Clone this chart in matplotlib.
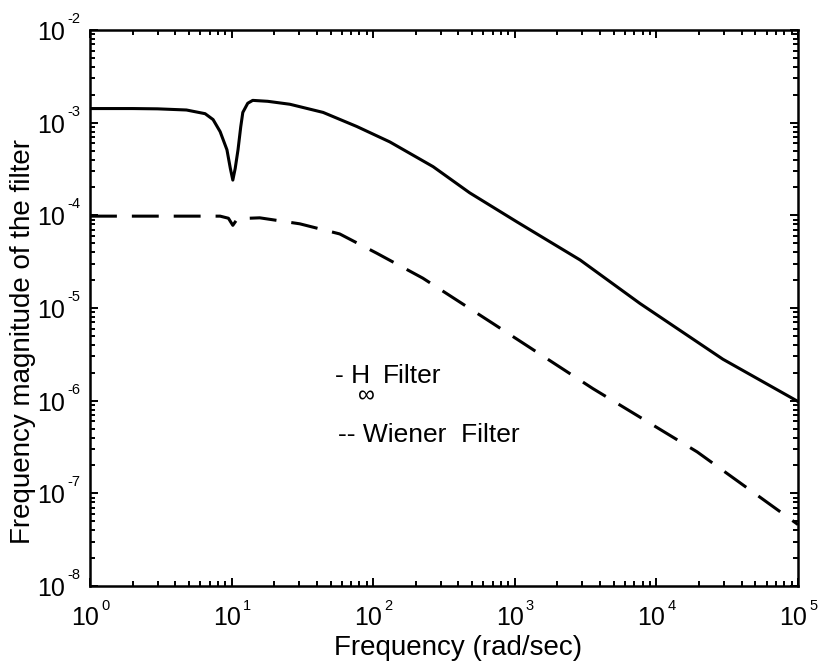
import matplotlib
matplotlib.use("Agg")
import matplotlib.pyplot as plt
from matplotlib.ticker import LogLocator, NullFormatter, FixedLocator

plt.rcParams['font.family'] = ['Liberation Sans', 'DejaVu Sans']

# H-infinity filter (solid)
hinf_freq = [1, 2, 3, 4.8, 6.5, 7.4, 8.3, 9.27, 9.8, 10.2, 10.6, 11.1, 11.6, 12.0,
             13.0, 14.1, 18, 25.8, 44.3, 76.5, 131, 265, 480, 1035, 2890, 7650,
             29500, 1e5]
hinf_mag = [1.42e-3, 1.42e-3, 1.41e-3, 1.37e-3, 1.25e-3, 1.08e-3, 8.0e-4, 5.1e-4,
            3.2e-4, 2.4e-4, 3.2e-4, 5.1e-4, 9.0e-4, 1.29e-3, 1.62e-3, 1.74e-3,
            1.70e-3, 1.58e-3, 1.29e-3, 9.1e-4, 6.2e-4, 3.35e-4, 1.75e-4, 8.5e-5,
            3.3e-5, 1.12e-5, 2.8e-6, 9.8e-7]

# Wiener filter (dashed)
wiener_freq = [1, 5, 8.3, 9.5, 10.2, 11, 15.8, 30.3, 58, 106, 224, 701, 3560,
               19400, 1e5]
wiener_mag = [9.8e-5, 9.8e-5, 9.8e-5, 9.3e-5, 7.8e-5, 9.2e-5, 9.4e-5, 8.1e-5,
              6.3e-5, 3.9e-5, 2.1e-5, 6.8e-6, 1.35e-6, 2.8e-7, 4.6e-8]

x_ticks = [1e0, 1e1, 1e2, 1e3, 1e4, 1e5]
x_tick_exps = ['0', '1', '2', '3', '4', '5']
y_ticks = [1e-8, 1e-7, 1e-6, 1e-5, 1e-4, 1e-3, 1e-2]
y_tick_exps = ['-8', '-7', '-6', '-5', '-4', '-3', '-2']
tick_base = '10'

W, H = 820, 671
PX = 0.72  # points per pixel at 100 dpi

fig = plt.figure(figsize=(8.2, 6.71), dpi=100)
ax = fig.add_axes([90 / W, 1 - 586 / H, 708 / W, 556 / H])

ax.plot(hinf_freq, hinf_mag, color='black', lw=2.2, solid_joinstyle='round')
ax.plot(wiener_freq, wiener_mag, color='black', lw=2.2, dashes=(8.8, 4.9))

ax.set_xscale('log')
ax.set_yscale('log')
ax.set_xlim(1e0, 1e5)
ax.set_ylim(1e-8, 1e-2)

ax.xaxis.set_major_locator(FixedLocator(x_ticks))
ax.yaxis.set_major_locator(FixedLocator(y_ticks))
ax.xaxis.set_minor_locator(LogLocator(base=10, subs=range(2, 10), numticks=100))
ax.yaxis.set_minor_locator(LogLocator(base=10, subs=range(2, 10), numticks=100))
ax.xaxis.set_minor_formatter(NullFormatter())
ax.yaxis.set_minor_formatter(NullFormatter())
ax.set_xticklabels([])
ax.set_yticklabels([])

ax.tick_params(which='both', direction='in', top=True, right=True, width=1.4, colors='black')
ax.tick_params(which='major', length=6)
ax.tick_params(which='minor', length=3.5)
for s in ax.spines.values():
    s.set_linewidth(1.8)

# tick labels: "10" with small raised exponent
for t, e in zip(x_ticks, x_tick_exps):
    ax.annotate(tick_base, xy=(t, 0), xycoords=('data', 'axes fraction'),
                xytext=(9 * PX, -39 * PX), textcoords='offset points',
                ha='right', va='baseline', fontsize=18, annotation_clip=False)
    ax.annotate(e, xy=(t, 0), xycoords=('data', 'axes fraction'),
                xytext=(11 * PX, -24 * PX), textcoords='offset points',
                ha='left', va='baseline', fontsize=10.5, annotation_clip=False)
for t, e in zip(y_ticks, y_tick_exps):
    ax.annotate(tick_base, xy=(0, t), xycoords=('axes fraction', 'data'),
                xytext=(-25 * PX, -10 * PX), textcoords='offset points',
                ha='right', va='baseline', fontsize=18, annotation_clip=False)
    ax.annotate(e, xy=(0, t), xycoords=('axes fraction', 'data'),
                xytext=(-23 * PX, 7 * PX), textcoords='offset points',
                ha='left', va='baseline', fontsize=10.5, annotation_clip=False)

# axis labels
fig.text(458 / W, 1 - 655 / H, 'Frequency (rad/sec)', fontsize=20,
         ha='center', va='baseline')
fig.text(23 / W, 1 - 341 / H, 'Frequency magnitude of the filter', fontsize=20,
         rotation=90, ha='center', va='center')

# in-plot legend text
fig.text(335 / W, 1 - 383 / H, '- H', fontsize=19, ha='left', va='baseline')
fig.text(358 / W, 1 - 385 / H, '\u221e', fontsize=17, ha='left', va='top')
fig.text(383 / W, 1 - 383 / H, 'Filter', fontsize=19, ha='left', va='baseline')
fig.text(338 / W, 1 - 442 / H, '-- Wiener  Filter', fontsize=19, ha='left', va='baseline')

fig.savefig('out.png', dpi=100)
